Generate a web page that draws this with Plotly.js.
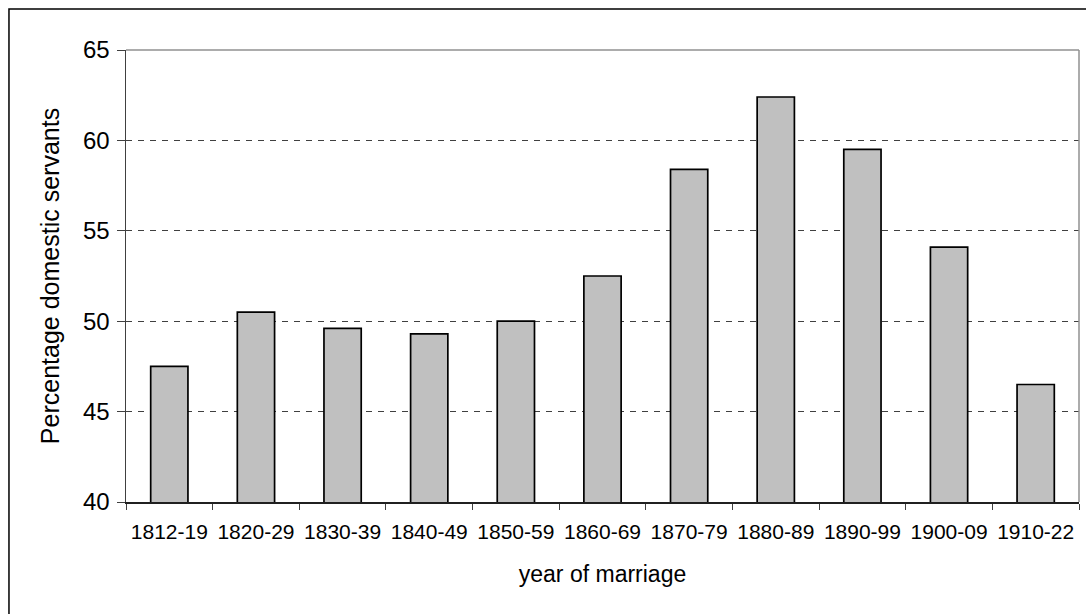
<!DOCTYPE html>
<html>
<head>
<meta charset="utf-8">
<script src="https://cdn.plot.ly/plotly-3.0.1.min.js"></script>
<style>
  html, body { margin: 0; padding: 0; background: #fff; overflow: hidden; }
  #chart { width: 1086px; height: 614px; }
</style>
</head>
<body>
<div id="chart"></div>
<script>
// Data
const periods = ["1812-19", "1820-29", "1830-39", "1840-49", "1850-59", "1860-69",
                 "1870-79", "1880-89", "1890-99", "1900-09", "1910-22"];
const pctDomesticServants = [47.5, 50.5, 49.6, 49.3, 50.0, 52.5, 58.4, 62.4, 59.5, 54.1, 46.5];
const yTicks = [40, 45, 50, 55, 60, 65];

const FONT = "Liberation Sans, Arial, sans-serif";

const trace = {
  type: "bar",
  x: periods,
  y: pctDomesticServants,
  marker: { color: "#c0c0c0", line: { color: "#000000", width: 1.7 } },
  hoverinfo: "x+y"
};

const layout = {
  width: 1086,
  height: 614,
  margin: { l: 126, r: 7, t: 50, b: 112, pad: 0 },
  paper_bgcolor: "#ffffff",
  plot_bgcolor: "#ffffff",
  showlegend: false,
  bargap: 0.57,
  font: { family: FONT, color: "#000" },
  xaxis: {
    type: "category",
    tickson: "boundaries",
    ticks: "outside",
    ticklen: 6,
    tickwidth: 1,
    tickcolor: "#404040",
    ticklabelstandoff: 10,
    showline: true,
    linecolor: "#202020",
    linewidth: 1.5,
    showgrid: false,
    zeroline: false,
    tickfont: { family: FONT, size: 21, color: "#000" },
    title: { text: "year of marriage", font: { family: FONT, size: 23, color: "#000" }, standoff: 24 }
  },
  yaxis: {
    range: [40, 65],
    tickvals: yTicks,
    ticktext: yTicks.map(String),
    ticks: "outside",
    ticklen: 8,
    tickwidth: 1,
    tickcolor: "#404040",
    ticklabelstandoff: 2,
    showline: true,
    linecolor: "#404040",
    linewidth: 1.5,
    showgrid: true,
    gridcolor: "#404040",
    gridwidth: 1,
    griddash: "6px,6px",
    zeroline: false,
    tickfont: { family: FONT, size: 24, color: "#000" },
    title: { text: "Percentage domestic servants", font: { family: FONT, size: 25, color: "#000" }, standoff: 16 }
  },
  shapes: [
    { type: "line", xref: "paper", yref: "paper", x0: 0, x1: 1, y0: 1, y1: 1,
      line: { color: "#909090", width: 1.5 } },
    { type: "line", xref: "paper", yref: "paper", x0: 1, x1: 1, y0: 0, y1: 1,
      line: { color: "#909090", width: 1.5 } },
    { type: "rect", xref: "paper", yref: "paper", x0: -0.1228, x1: 1.3, y0: -0.6, y1: 1.0907,
      line: { color: "#000000", width: 1.5 }, fillcolor: "rgba(0,0,0,0)" }
  ]
};

Plotly.newPlot("chart", [trace], layout, { displayModeBar: false, staticPlot: true });
</script>
</body>
</html>
